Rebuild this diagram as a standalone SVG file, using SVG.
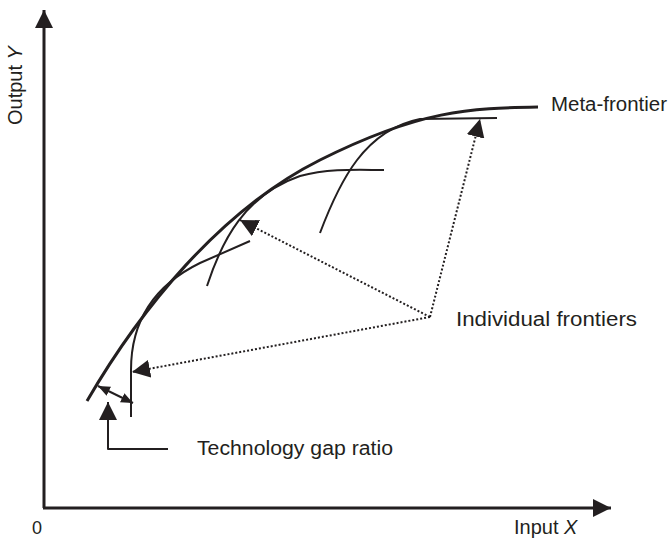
<svg xmlns="http://www.w3.org/2000/svg" width="669" height="540" viewBox="0 0 669 540">
<style>
.ln{fill:none;stroke:#231f20;stroke-linecap:butt;stroke-linejoin:round}
.ax{stroke-width:3}
.meta{stroke-width:3}
.ind{stroke-width:2}
.dot{stroke-width:2;stroke-dasharray:2 2}
.t{font-family:"Liberation Sans",Arial,sans-serif;font-size:20px;fill:#231f20}
</style>
<defs>
<marker id="ah" markerUnits="userSpaceOnUse" markerWidth="18" markerHeight="18" viewBox="0 0 16 16" refX="16" refY="8" orient="auto">
<path d="M0,0 L16,8 L0,16 Z" fill="#231f20"/>
</marker>
<marker id="ahs" markerUnits="userSpaceOnUse" markerWidth="12" markerHeight="12" viewBox="0 0 12 10" refX="12" refY="5" orient="auto">
<path d="M0,0 L12,5 L0,10 Z" fill="#231f20"/>
</marker>
<marker id="ahs0" markerUnits="userSpaceOnUse" markerWidth="12" markerHeight="12" viewBox="0 0 12 10" refX="0" refY="5" orient="auto">
<path d="M12,0 L0,5 L12,10 Z" fill="#231f20"/>
</marker>
</defs>
<g id="axes">
<path class="ln ax" d="M44,508 L44,10" marker-end="url(#ah)"/>
<path class="ln ax" d="M43,508 L611,508" marker-end="url(#ah)"/>
</g>
<g id="meta-frontier">
<path class="ln meta" d="M87,401 C140,310 220,210 320,160 S470,108 538,107"/>
</g>
<g id="frontier-1">
<path class="ln ind" d="M131,417 L131,370 C131,320 155,285 200,263 L250,241"/>
</g>
<g id="frontier-2">
<path class="ln ind" d="M207,286 C222,240 245,195 300,176 C330,168 360,170 384,170"/>
</g>
<g id="frontier-3">
<path class="ln ind" d="M320,233 C340,180 365,130 420,119 L497,118"/>
</g>
<g id="connectors">
<path class="ln dot" d="M430,317 L132,372" marker-end="url(#ah)"/>
<path class="ln dot" d="M430,317 L240,220" marker-end="url(#ah)"/>
<path class="ln dot" d="M430,317 L480,119" marker-end="url(#ah)"/>
<path class="ln ind" d="M98,386 L133,403" marker-start="url(#ahs0)" marker-end="url(#ahs)"/>
<path class="ln ind" d="M168,449 L108,449 L108,402" marker-end="url(#ah)"/>
</g>
<g id="labels">
<text class="t" x="551" y="111" textLength="116" lengthAdjust="spacingAndGlyphs">Meta-frontier</text>
<text class="t" x="456" y="326" textLength="181" lengthAdjust="spacingAndGlyphs">Individual frontiers</text>
<text class="t" x="197" y="455" textLength="196" lengthAdjust="spacingAndGlyphs">Technology gap ratio</text>
<text class="t" x="32" y="534" style="font-size:18px">0</text>
<text class="t" x="514" y="534">Input <tspan font-style="italic">X</tspan></text>
<text class="t" transform="translate(22,125) rotate(-90)">Output <tspan font-style="italic">Y</tspan></text>
</g>
</svg>
